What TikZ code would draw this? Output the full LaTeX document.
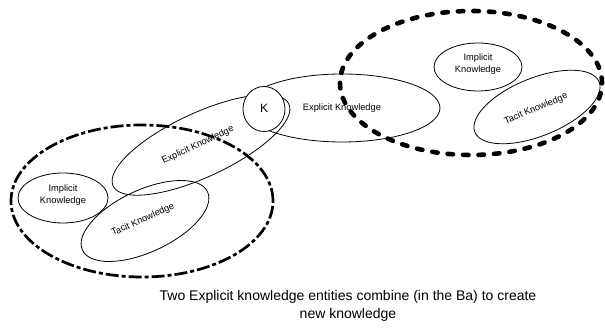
\documentclass[tikz,border=0pt]{standalone}
\usepackage{fontspec}
\setmainfont{Liberation Sans}
\begin{document}
\begin{tikzpicture}[x=1pt,y=1pt,
  blob/.style={draw=black, line width=0.8pt},
  lbl/.style={font=\fontsize{9.3}{12}\selectfont, align=center, inner sep=0pt},
  ba/.style={draw=black, line width=2.7pt, dash pattern=on 13pt off 3pt on 4pt off 3pt},
  baheavy/.style={draw=black, line width=4.6pt, line cap=round, dash pattern=on 5.5pt off 10pt}]
\useasboundingbox (0,0) rectangle (605,328);

% left group
\draw[blob] (63,130) ellipse [x radius=45, y radius=25];
\node[lbl] (impL) at (63,133) {Implicit\\Knowledge};
\draw[blob, rotate around={25:(145,107)}] (145,107) ellipse [x radius=69, y radius=31];
\node[lbl, rotate=24] (tacL) at (143,108) {Tacit Knowledge};
\draw[blob, rotate around={25:(201,183)}] (201,183) ellipse [x radius=97, y radius=32];
\node[lbl, rotate=25] (expL) at (198,183) {Explicit Knowledge};

% right group
\draw[blob] (342,220) ellipse [x radius=98, y radius=34];
\node[lbl] (expR) at (342,220) {Explicit Knowledge};
\draw[blob] (478,261) ellipse [x radius=44, y radius=24];
\node[lbl] (impR) at (478,264) {Implicit\\Knowledge};
\draw[blob, rotate around={22:(537,221)}] (537,221) ellipse [x radius=67, y radius=29];
\node[lbl, rotate=23] (tacR) at (536,219) {Tacit Knowledge};

% new knowledge where the two explicit entities meet
\draw[blob, fill=white] (264,219) ellipse [x radius=21, y radius=22.5];
\node[font=\fontsize{12}{14}\selectfont, inner sep=0pt] (k) at (264,220) {K};

% the two Ba
\draw[ba] (142,127) ellipse [x radius=131, y radius=76];
\draw[baheavy] (471,245) ellipse [x radius=131, y radius=72];

% caption
\node[font=\fontsize{14}{18}\selectfont, align=center, inner sep=0pt] (cap) at (348,22)
  {Two Explicit knowledge entities combine (in the Ba) to create\\new knowledge};
\end{tikzpicture}
\end{document}
